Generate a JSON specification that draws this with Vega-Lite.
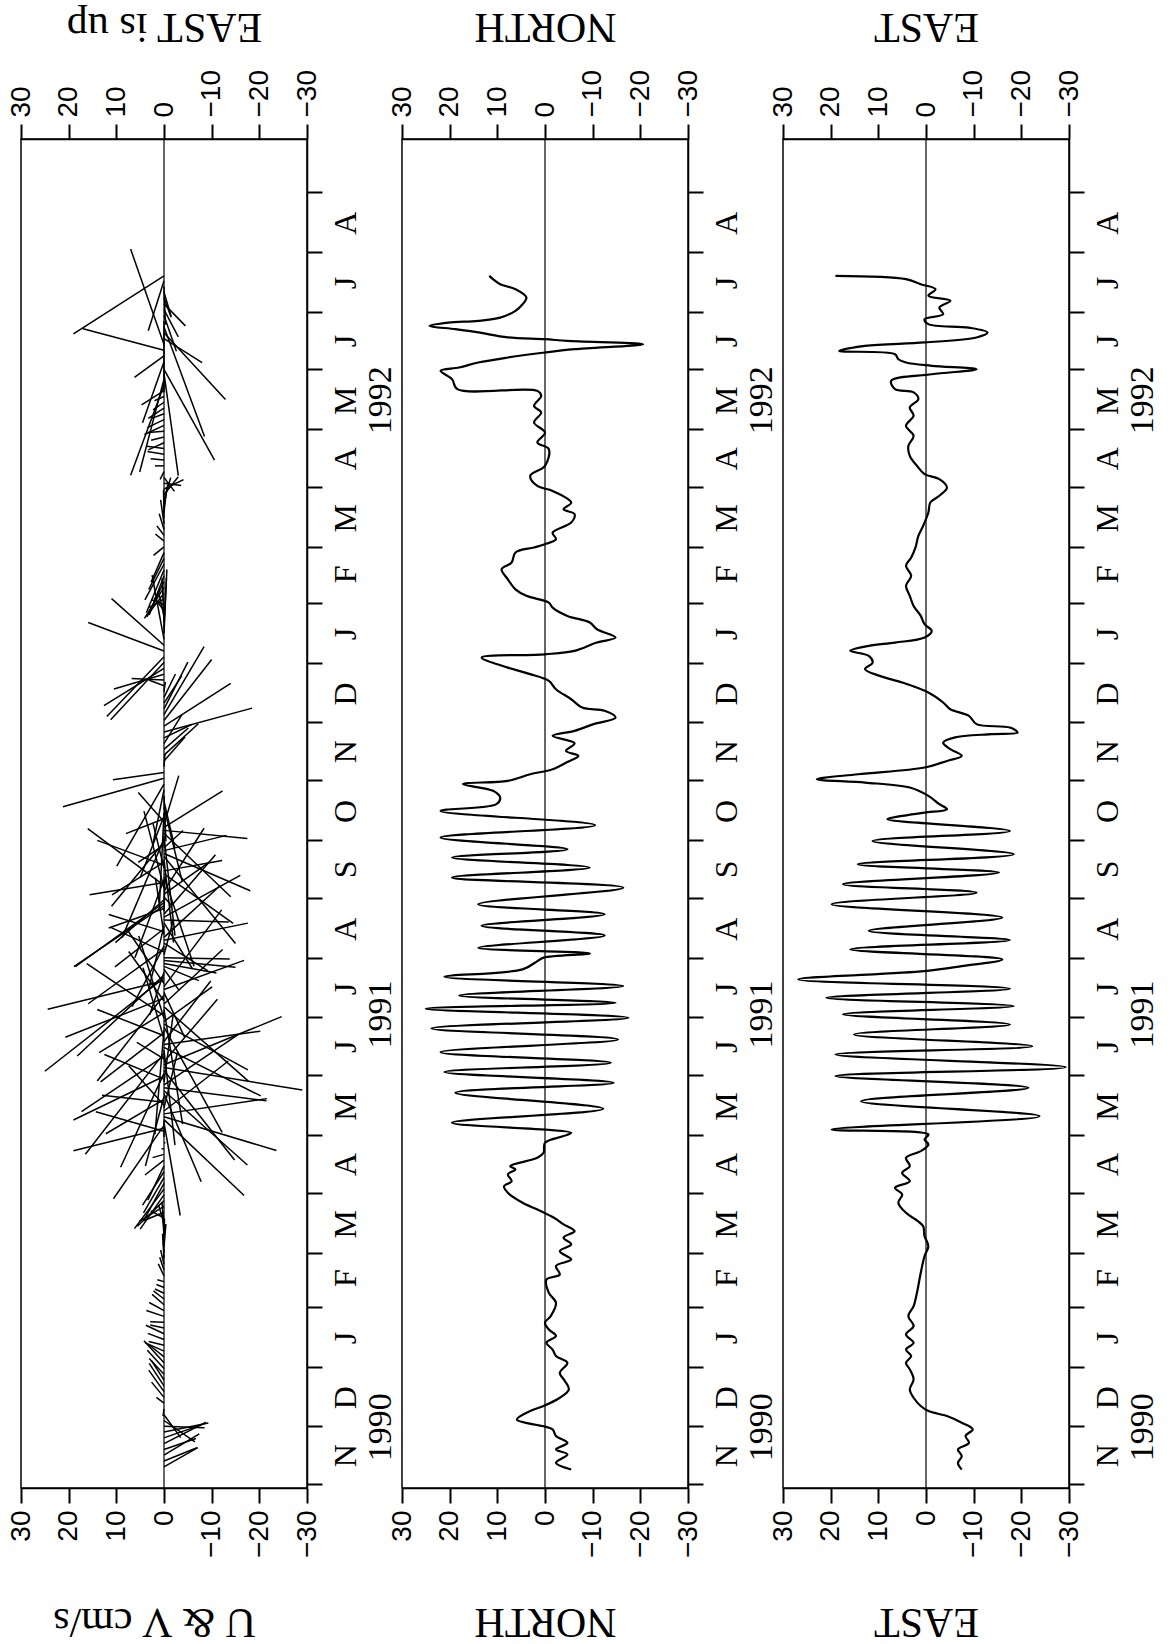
{
  "$schema": "https://vega.github.io/schema/vega-lite/v6.json",
  "padding": {"left": 6, "top": 4, "right": 2, "bottom": 2},
  "background": "white",
  "config": {
    "view": {"stroke": "black", "strokeWidth": 1.5},
    "axis": {"domainColor": "black", "domainWidth": 1.5, "tickColor": "black", "tickWidth": 2, "tickSize": 15, "labelColor": "black", "titleColor": "black", "grid": false},
    "axisRight": {"title": null,
      "labelExpr": "['N','D','J','F','M','A','M','J','J','A','S','O','N','D','J','F','M','A','M','J','J','A',''][indexof([0,30,61,92,120,151,181,212,242,273,304,334,365,395,426,457,486,517,547,578,608,639,670], datum.value)]",
      "labelAngle": 270, "labelAlign": "center", "labelBaseline": "top", "labelOffset": -29, "labelPadding": 8, "labelFont": "Liberation Serif", "labelFontSize": 32, "labelFlush": false, "labelOverlap": false, "labelBound": false},
    "axisBottom": {"labelAngle": 270, "labelAlign": "right", "labelBaseline": "middle", "labelFont": "Liberation Sans", "labelFontSize": 28, "labelPadding": 7, "labelFlush": false, "labelOverlap": false, "labelBound": false,
      "titleFont": "Liberation Serif", "titleFontSize": 42, "titleFontWeight": "normal", "titleAngle": 180, "titleBaseline": "alphabetic", "titleAlign": "center", "titleY": 120},
    "axisTop": {"labelAngle": 270, "labelAlign": "left", "labelBaseline": "middle", "labelFont": "Liberation Sans", "labelFontSize": 28, "labelPadding": 7, "labelFlush": false, "labelOverlap": false, "labelBound": false,
      "titleFont": "Liberation Serif", "titleFontSize": 42, "titleFontWeight": "normal", "titleAngle": 180, "titleBaseline": "alphabetic", "titleAlign": "center", "titleY": -126}
  },
  "datasets": {
    "years": [{"day": 29.5, "year": "1990"}, {"day": 243.5, "year": "1991"}, {"day": 562, "year": "1992"}],
    "north": [
      {"day":7.6,"north":-5.5},{"day":11,"north":-2.3},{"day":15.4,"north":-4.7},{"day":18,"north":-2.3},{"day":21.4,"north":-4.7},{"day":25,"north":-2.3},{"day":28.4,"north":-1.6},{"day":30,"north":0.3},{"day":33.5,"north":5.9},{"day":37.9,"north":3.1},{"day":40.5,"north":0.3},{"day":44.8,"north":-3.1},{"day":49.1,"north":-5},{"day":53.4,"north":-4.2},{"day":57.7,"north":-3.1},{"day":62.9,"north":-4.7},{"day":66.4,"north":-2.3},{"day":69.8,"north":-1.6},{"day":73.3,"north":-0.3},{"day":76.8,"north":-2.3},{"day":80.2,"north":-0.8},{"day":83.7,"north":0},{"day":87.1,"north":-1.2},{"day":94,"north":-2.3},{"day":99.2,"north":-0.8},{"day":106.1,"north":-0.3},{"day":108.7,"north":-3.1},{"day":113.1,"north":-2.3},{"day":116.5,"north":-5.5},{"day":120.8,"north":-3.1},{"day":124.3,"north":-5.5},{"day":127.8,"north":-3.9},{"day":131.2,"north":-6.2},{"day":134.7,"north":-3.9},{"day":137.5,"north":-2.3},{"day":139.5,"north":-0.8},{"day":142.4,"north":1.6},{"day":145.9,"north":4.7},{"day":151.1,"north":7.8},{"day":154.5,"north":8.6},{"day":157.1,"north":7},{"day":160.6,"north":7.8},{"day":163.2,"north":6.2},{"day":164.9,"north":7.3},{"day":169.2,"north":1.6},{"day":171.8,"north":0.3},{"day":177,"north":0},{"day":180.5,"north":-3.9},{"day":182.2,"north":-5.5},{"day":187.4,"north":19.5},{"day":194.6,"north":-12.2},{"day":203,"north":18.8},{"day":208.1,"north":-14.4},{"day":213.7,"north":21.1},{"day":218.5,"north":-13.8},{"day":224,"north":21.9},{"day":230.6,"north":-15.3},{"day":236.3,"north":23.8},{"day":241.8,"north":-17.5},{"day":246.5,"north":25},{"day":249.6,"north":-14.8},{"day":253.4,"north":18},{"day":258.3,"north":-16.4},{"day":263.1,"north":21.1},{"day":266.9,"north":4.7},{"day":271.2,"north":1.6},{"day":273,"north":0.3},{"day":275.2,"north":-9.4},{"day":278.1,"north":14},{"day":284.5,"north":-12.5},{"day":289.5,"north":13.3},{"day":295.5,"north":-12.5},{"day":300.7,"north":14},{"day":309.3,"north":-16.4},{"day":314.5,"north":19.5},{"day":319.7,"north":-9.4},{"day":324.9,"north":19.5},{"day":329.2,"north":-4.7},{"day":335.3,"north":21.9},{"day":341.7,"north":-10.5},{"day":349.1,"north":21.9},{"day":352.6,"north":10.2},{"day":356,"north":9.4},{"day":359.5,"north":10.9},{"day":363,"north":17.2},{"day":364.7,"north":7.8},{"day":368.1,"north":3.1},{"day":370.7,"north":-1.6},{"day":374.5,"north":-4.7},{"day":377.6,"north":-7},{"day":380.2,"north":-4.4},{"day":384.2,"north":-6.2},{"day":388,"north":-1.6},{"day":390.6,"north":-6.2},{"day":394.1,"north":-10.2},{"day":397.5,"north":-14.8},{"day":401,"north":-12.5},{"day":402.7,"north":-7.8},{"day":407,"north":-5.5},{"day":412.2,"north":-2.3},{"day":416.5,"north":-0.8},{"day":420,"north":3.1},{"day":423.4,"north":7.8},{"day":428.6,"north":13.3},{"day":430.3,"north":0},{"day":432.1,"north":-6.2},{"day":436.4,"north":-10.9},{"day":439,"north":-14.8},{"day":443.3,"north":-10.9},{"day":446.8,"north":-9.4},{"day":450.2,"north":-4.7},{"day":454.5,"north":-1.6},{"day":457.1,"north":-0.8},{"day":460.6,"north":3.9},{"day":464,"north":6.2},{"day":469.2,"north":7.8},{"day":474.4,"north":9.1},{"day":477.9,"north":7},{"day":483.1,"north":6.2},{"day":485.7,"north":2.3},{"day":487.4,"north":0},{"day":490,"north":-2.3},{"day":493.4,"north":-1.6},{"day":498.6,"north":-5.5},{"day":503,"north":-6.2},{"day":505.5,"north":-3.9},{"day":509,"north":-5.5},{"day":515,"north":-1.6},{"day":517.6,"north":1.6},{"day":522.8,"north":3.1},{"day":528,"north":0},{"day":536.7,"north":-0.8},{"day":540.1,"north":1.6},{"day":545.3,"north":0},{"day":550.5,"north":2.3},{"day":555.7,"north":0.8},{"day":559.1,"north":2.3},{"day":564.3,"north":0.8},{"day":566.9,"north":1.6},{"day":567.8,"north":18.4},{"day":573,"north":19.5},{"day":577.3,"north":21.9},{"day":579,"north":18},{"day":581.6,"north":14},{"day":584.2,"north":7.8},{"day":586.8,"north":0},{"day":588.5,"north":-6.2},{"day":591.1,"north":-20.6},{"day":592.8,"north":-4.7},{"day":593.7,"north":0},{"day":594.6,"north":7.8},{"day":597.2,"north":14},{"day":598.9,"north":18.8},{"day":600.6,"north":24.2},{"day":602.3,"north":20.3},{"day":603.2,"north":14},{"day":604.9,"north":9.4},{"day":608.4,"north":6.2},{"day":611.8,"north":4.7},{"day":615.3,"north":3.9},{"day":619.6,"north":6.2},{"day":622.2,"north":9.4},{"day":624.8,"north":10.9},{"day":626.5,"north":11.7}
    ],
    "east": [
      {"day":7.6,"east":-7.5},{"day":11,"east":-6.7},{"day":14.5,"east":-7.5},{"day":18,"east":-6.7},{"day":21.4,"east":-9},{"day":25,"east":-8.3},{"day":28.4,"east":-9.8},{"day":31.8,"east":-7.5},{"day":35.3,"east":-4.4},{"day":37.9,"east":-0.5},{"day":40.5,"east":1.1},{"day":44.8,"east":2.6},{"day":49.1,"east":3.4},{"day":54.3,"east":2.6},{"day":59.5,"east":3.4},{"day":62.9,"east":4.2},{"day":66.4,"east":3.1},{"day":69.8,"east":4.2},{"day":73.3,"east":2.6},{"day":77.6,"east":4.2},{"day":82,"east":2.6},{"day":87.1,"east":3.7},{"day":92.3,"east":2.6},{"day":99.2,"east":1.9},{"day":109.6,"east":1.1},{"day":118.3,"east":0.3},{"day":123.4,"east":-0.5},{"day":128.6,"east":0.3},{"day":133.8,"east":0.6},{"day":136.5,"east":1.8},{"day":140.7,"east":4.2},{"day":145.9,"east":5.8},{"day":150.2,"east":5},{"day":153.7,"east":6.5},{"day":157.1,"east":3.4},{"day":161.4,"east":5},{"day":164.9,"east":3.4},{"day":169.2,"east":4.2},{"day":172.7,"east":1.1},{"day":176.1,"east":-0.5},{"day":178.7,"east":0.3},{"day":181.3,"east":-0.5},{"day":183.9,"east":19.8},{"day":190.8,"east":-23.8},{"day":198.6,"east":13.6},{"day":205.5,"east":-21.5},{"day":211.6,"east":19},{"day":216.2,"east":-29.3},{"day":222.8,"east":19},{"day":227.1,"east":-22.3},{"day":233.2,"east":15.1},{"day":238.4,"east":-17.6},{"day":243.6,"east":17.4},{"day":247.9,"east":-18.4},{"day":252.2,"east":20.9},{"day":256.9,"east":-17.6},{"day":261.7,"east":26.8},{"day":266,"east":0.3},{"day":268.6,"east":-7.5},{"day":272.1,"east":-16},{"day":277.3,"east":15.9},{"day":282.1,"east":-17.6},{"day":286.9,"east":12},{"day":293.8,"east":-16},{"day":300.7,"east":19.8},{"day":306.7,"east":-10.6},{"day":311.1,"east":17.4},{"day":317.1,"east":-15.3},{"day":321.4,"east":14.3},{"day":326.6,"east":-18.4},{"day":333.5,"east":11.2},{"day":338.7,"east":-17.6},{"day":344.8,"east":8.1},{"day":346.5,"east":5},{"day":348.2,"east":0.3},{"day":350,"east":-4.4},{"day":352.6,"east":-2.8},{"day":356.9,"east":-0.5},{"day":361.2,"east":3.4},{"day":363.8,"east":12.8},{"day":365.5,"east":22.9},{"day":368.1,"east":14.3},{"day":371.6,"east":0.3},{"day":375,"east":-4.4},{"day":377.6,"east":-7.5},{"day":381.1,"east":-5.1},{"day":384.5,"east":-3.6},{"day":387.1,"east":-5.9},{"day":388.9,"east":-13.7},{"day":389.7,"east":-19.2},{"day":392.3,"east":-17.6},{"day":394.1,"east":-10.6},{"day":398.4,"east":-9},{"day":401.8,"east":-5.1},{"day":405.3,"east":-3.6},{"day":410.5,"east":-0.5},{"day":415.7,"east":5},{"day":419.1,"east":9.7},{"day":422.6,"east":12.8},{"day":426,"east":11.2},{"day":429.5,"east":12},{"day":432.1,"east":15.9},{"day":434.7,"east":12},{"day":436.4,"east":6.5},{"day":439,"east":0.3},{"day":442.4,"east":-1.2},{"day":445.9,"east":0.3},{"day":450.2,"east":1.1},{"day":455.4,"east":2.6},{"day":460.6,"east":3.4},{"day":465.8,"east":4.2},{"day":471,"east":3.1},{"day":476.2,"east":4.2},{"day":480.5,"east":3.1},{"day":485.7,"east":2.2},{"day":491.7,"east":1.6},{"day":496.9,"east":0.6},{"day":503.8,"east":-0.5},{"day":509,"east":-0.9},{"day":512.5,"east":-2.8},{"day":516.8,"east":-4.4},{"day":521.1,"east":-2.8},{"day":523.7,"east":0.3},{"day":528,"east":1.9},{"day":533.2,"east":3.4},{"day":538.4,"east":3.7},{"day":543.6,"east":2.6},{"day":548.8,"east":4.2},{"day":554,"east":2.6},{"day":558.3,"east":3.4},{"day":562.6,"east":1.6},{"day":566.1,"east":2.6},{"day":567.8,"east":6.5},{"day":572.1,"east":7.3},{"day":575.5,"east":-1.2},{"day":578.1,"east":-10.6},{"day":579.9,"east":-1.2},{"day":581.6,"east":4.2},{"day":583.3,"east":5.8},{"day":585.9,"east":6.5},{"day":587.6,"east":18.2},{"day":590.2,"east":12.8},{"day":592,"east":0.3},{"day":594.6,"east":-10.6},{"day":597.2,"east":-12.9},{"day":599.7,"east":-9},{"day":601.5,"east":-0.5},{"day":604.1,"east":0.3},{"day":606.7,"east":-3.6},{"day":610.1,"east":-2.8},{"day":613.6,"east":-5.1},{"day":616.2,"east":-0.5},{"day":619.6,"east":-2},{"day":622.2,"east":1.1},{"day":624.8,"east":4.2},{"day":626.5,"east":19}
    ],
    "sticks": [
      {"day":9,"east":-7.1,"day2":18.9},{"day":12,"east":-6.9,"day2":18.9},{"day":15,"east":-7.4,"day2":26.1},{"day":18,"east":-6.7,"day2":23.7},{"day":21,"east":-8.8,"day2":32.1},{"day":24,"east":-8.5,"day2":31.4},{"day":27,"east":-9.3,"day2":31.7},{"day":30,"east":-8.5,"day2":29.3},{"day":33,"east":-6.5,"day2":21.9},{"day":36,"east":-3.5,"day2":24.1},{"day":39,"east":0.2,"day2":35.3},{"day":42,"east":1.6,"day2":45},{"day":45,"east":2.6,"day2":52.9},{"day":48,"east":3.2,"day2":59.1},{"day":51,"east":3.1,"day2":62.6},{"day":54,"east":2.6,"day2":63.9},{"day":57,"east":3.1,"day2":65.2},{"day":60,"east":3.5,"day2":69.4},{"day":63,"east":4.2,"day2":74.4},{"day":66,"east":3.2,"day2":72.4},{"day":69,"east":4,"day2":73.4},{"day":72,"east":3.2,"day2":74},{"day":75,"east":3.4,"day2":78.2},{"day":78,"east":3.8,"day2":82.4},{"day":81,"east":2.9,"day2":82.5},{"day":84,"east":2.9,"day2":84.2},{"day":87,"east":3.7,"day2":90},{"day":90,"east":3.1,"day2":94.2},{"day":93,"east":2.5,"day2":98.4},{"day":96,"east":2.2,"day2":100.2},{"day":99,"east":1.9,"day2":101.2},{"day":102,"east":1.6,"day2":103.5},{"day":105,"east":1.4,"day2":106},{"day":108,"east":1.2,"day2":114.2},{"day":111,"east":0.9,"day2":117.7},{"day":114,"east":0.7,"day2":121.4},{"day":117,"east":0.3,"day2":129.8},{"day":120,"east":0.2,"day2":128.6},{"day":123,"east":-0.4,"day2":134.9},{"day":126,"east":-0.1,"day2":137.6},{"day":129,"east":0.3,"day2":139.9},{"day":132,"east":0.4,"day2":146.1},{"day":135,"east":1.1,"day2":144.4},{"day":138,"east":2.8,"day2":141.7},{"day":141,"east":4.3,"day2":136.6},{"day":144,"east":5.2,"day2":136.3},{"day":147,"east":5.6,"day2":133.7},{"day":150,"east":5,"day2":132.2},{"day":153,"east":6.2,"day2":132.5},{"day":156,"east":4.2,"day2":137},{"day":159,"east":4.3,"day2":140.7},{"day":162,"east":4.5,"day2":144.7},{"day":165,"east":3.4,"day2":147.2},{"day":168,"east":4,"day2":160.3},{"day":171,"east":2.4,"day2":169.3},{"day":174,"east":0.5,"day2":173.8},{"day":177,"east":-0.3,"day2":177},{"day":180,"east":0,"day2":188.4},
      {"day":183,"east":14.3,"day2":193.1},{"day":186,"east":10.6,"day2":148},{"day":189,"east":-16.8,"day2":149.7},{"day":192,"east":-21.6,"day2":199.9},{"day":195,"east":-2.9,"day2":224.6},{"day":198,"east":13,"day2":201.7},{"day":201,"east":3.9,"day2":165},{"day":204,"east":-17.5,"day2":165.5},{"day":207,"east":-15.6,"day2":233.2},{"day":210,"east":12.5,"day2":222.8},{"day":213,"east":9.1,"day2":164.3},{"day":216,"east":-29,"day2":204.4},{"day":219,"east":-11.2,"day2":251.4},{"day":222,"east":17.3,"day2":193.1},{"day":225,"east":-2.3,"day2":175.8},{"day":228,"east":-20.2,"day2":234.9},{"day":231,"east":4.4,"day2":267.8},{"day":234,"east":13.3,"day2":208.6},{"day":237,"east":-12.2,"day2":182.4},{"day":240,"east":-10.1,"day2":257.8},{"day":243,"east":16.2,"day2":269.9},{"day":246,"east":-3.9,"day2":186.7},{"day":249,"east":-12.3,"day2":277.2},{"day":252,"east":20.7,"day2":231.7},{"day":255,"east":-4.3,"day2":231.8},{"day":258,"east":-12.1,"day2":297.8},{"day":261,"east":24.4,"day2":246.2},{"day":264,"east":18.2,"day2":222},{"day":267,"east":-3.2,"day2":255.9},{"day":270,"east":-11,"day2":265},{"day":273,"east":-13.8,"day2":272.3},{"day":276,"east":11.3,"day2":288.8},{"day":279,"east":6.7,"day2":247.6},{"day":282,"east":-17.6,"day2":290.9},{"day":285,"east":1.8,"day2":314.4},{"day":288,"east":10.3,"day2":268.2},{"day":291,"east":-5.9,"day2":267.5},{"day":294,"east":-16,"day2":315.7},{"day":297,"east":-0.2,"day2":315},{"day":300,"east":18.9,"day2":268.4},{"day":303,"east":10.2,"day2":280.8},{"day":306,"east":-9.5,"day2":322.5},{"day":309,"east":4.2,"day2":349},{"day":312,"east":15.6,"day2":305.6},{"day":315,"east":-6.3,"day2":268.6},{"day":318,"east":-12.2,"day2":323.4},{"day":321,"east":14,"day2":333.8},{"day":324,"east":-2,"day2":280.8},{"day":327,"east":-18.1,"day2":307.7},{"day":330,"east":-4,"day2":338.9},{"day":333,"east":11,"day2":299.7},{"day":336,"east":-2.3,"day2":284.4},{"day":339,"east":-17.5,"day2":334.8},{"day":342,"east":-3.1,"day2":367.4},{"day":345,"east":8,"day2":337.3},{"day":348,"east":1,"day2":298.4},
      {"day":184.5,"east":19,"day2":172.9},{"day":187.5,"east":-3.4,"day2":139.3},{"day":190.5,"east":-23.6,"day2":173},{"day":193.5,"east":-13.5,"day2":219.4},{"day":196.5,"east":7.4,"day2":217},{"day":199.5,"east":12.2,"day2":181.7},{"day":202.5,"east":-7.8,"day2":156.8},{"day":205.5,"east":-21.5,"day2":198.8},{"day":208.5,"east":-1.9,"day2":243.1},{"day":211.5,"east":19,"day2":188.8},{"day":214.5,"east":-14.8,"day2":168.1},{"day":217.5,"east":-24.7,"day2":242.4},{"day":220.5,"east":5.7,"day2":229.1},{"day":223.5,"east":16.5,"day2":171.1},{"day":226.5,"east":-20.3,"day2":201.3},{"day":229.5,"east":-9.8,"day2":260.9},{"day":232.5,"east":14,"day2":246.1},{"day":235.5,"east":1.9,"day2":181.4},{"day":238.5,"east":-17.6,"day2":214.8},{"day":241.5,"east":5.3,"day2":284.2},{"day":244.5,"east":13.6,"day2":223.8},{"day":247.5,"east":-17.7,"day2":209},{"day":250.5,"east":7.4,"day2":276.2},{"day":253.5,"east":14,"day2":209},{"day":256.5,"east":-16.8,"day2":271.6},{"day":259.5,"east":7.5,"day2":286.7},{"day":262.5,"east":25,"day2":214.1},{"day":265.5,"east":3,"day2":243.3},{"day":268.5,"east":-7.3,"day2":261.1},{"day":271.5,"east":-15,"day2":268},{"day":274.5,"east":-2,"day2":293},{"day":277.5,"east":15.9,"day2":249.1},{"day":280.5,"east":-9.2,"day2":266.2},{"day":283.5,"east":-11.8,"day2":310.4},{"day":286.5,"east":11.6,"day2":295.4},{"day":289.5,"east":3.2,"day2":256.6},{"day":292.5,"east":-13.6,"day2":291.5},{"day":295.5,"east":-10.8,"day2":326.4},{"day":298.5,"east":11.6,"day2":288.4},{"day":301.5,"east":18.6,"day2":268.4},{"day":304.5,"east":-1.5,"day2":300.3},{"day":307.5,"east":-8.4,"day2":340.1},{"day":310.5,"east":16,"day2":339.9},{"day":313.5,"east":6.1,"day2":273},{"day":316.5,"east":-14.5,"day2":290.8},{"day":319.5,"east":2.3,"day2":342.5},{"day":322.5,"east":10.9,"day2":305.5},{"day":325.5,"east":-15,"day2":280.3},{"day":328.5,"east":-13.1,"day2":336.4},{"day":331.5,"east":5.4,"day2":322.4},{"day":334.5,"east":8.8,"day2":283.4},{"day":337.5,"east":-14,"day2":304.6},{"day":340.5,"east":-12.3,"day2":359.5},{"day":343.5,"east":5.4,"day2":358.6},{"day":346.5,"east":5,"day2":314.4},
      {"day":351,"east":-3.8,"day2":312.7},{"day":354,"east":-2.3,"day2":329.8},{"day":357,"east":-0.4,"day2":333.3},{"day":360,"east":2.4,"day2":330.9},{"day":363,"east":9.9,"day2":320.5},{"day":366,"east":21.2,"day2":351.2},{"day":369,"east":10.7,"day2":365.3},{"day":372,"east":-0.2,"day2":378.7},{"day":375,"east":-4.4,"day2":387.4},{"day":378,"east":-7.2,"day2":394.3},{"day":381,"east":-5.1,"day2":392.1},{"day":384,"east":-3.8,"day2":399.1},{"day":387,"east":-5.8,"day2":393.9},{"day":390,"east":-18.5,"day2":402.4},{"day":393,"east":-14,"day2":415.2},{"day":396,"east":-10,"day2":427.6},{"day":399,"east":-8.4,"day2":434.3},{"day":402,"east":-5,"day2":426.2},{"day":405,"east":-3.7,"day2":419.1},{"day":408,"east":-2.4,"day2":420.1},{"day":411,"east":-0.3,"day2":416},{"day":414,"east":3.2,"day2":417},{"day":417,"east":6.8,"day2":417.7},{"day":420,"east":10.5,"day2":412.3},{"day":423,"east":12.6,"day2":403.7},{"day":426,"east":11.2,"day2":396.4},{"day":429,"east":12,"day2":398.1},{"day":432,"east":15.9,"day2":446.8},{"day":435,"east":11,"day2":459.2},{"day":438,"east":2.5,"day2":471.3},{"day":441,"east":-0.6,"day2":474.3},{"day":444,"east":-0.5,"day2":469.9},{"day":447,"east":0.4,"day2":469.7},{"day":450,"east":1.1,"day2":462.4},{"day":453,"east":2.1,"day2":459.7},{"day":456,"east":2.7,"day2":458.7},{"day":459,"east":3.1,"day2":454.6},{"day":462,"east":3.6,"day2":450.1},{"day":465,"east":4.1,"day2":448.9},{"day":468,"east":3.6,"day2":449.7},{"day":471,"east":3.1,"day2":450.7},{"day":474,"east":3.7,"day2":451.8},{"day":477,"east":4,"day2":458.5},{"day":480,"east":3.2,"day2":463.9},{"day":483,"east":2.7,"day2":467.7},{"day":486,"east":2.2,"day2":481.6},{"day":489,"east":1.8,"day2":492.7},{"day":492,"east":1.5,"day2":496.9},{"day":495,"east":1,"day2":503.2},{"day":498,"east":0.7,"day2":510.4},{"day":501,"east":0.1,"day2":515.6},{"day":504,"east":-0.6,"day2":516.8},{"day":507,"east":-0.8,"day2":518.4},{"day":510,"east":-1.4,"day2":521.9},{"day":513,"east":-3,"day2":522.4},{"day":516,"east":-4.1,"day2":520.9},{"day":519,"east":-3.6,"day2":517.8},{"day":522,"east":-2.2,"day2":514.8},{"day":525,"east":0.8,"day2":521},{"day":528,"east":1.9,"day2":528},{"day":531,"east":2.8,"day2":531.7},{"day":534,"east":3.5,"day2":535.5},{"day":537,"east":3.6,"day2":538.2},{"day":540,"east":3.3,"day2":536.3},{"day":543,"east":2.7,"day2":541.3},{"day":546,"east":3.3,"day2":545.3},{"day":549,"east":4.1,"day2":544.3},{"day":552,"east":3.5,"day2":547.8},{"day":555,"east":2.7,"day2":552.5},{"day":558,"east":3.3,"day2":552.6},{"day":561,"east":2.3,"day2":557},{"day":564,"east":2,"day2":561.8},{"day":567,"east":4.7,"day2":559.6},{"day":570,"east":7,"day2":523.1},{"day":573,"east":5.1,"day2":524.8},{"day":576,"east":-3,"day2":522.9},{"day":578,"east":-10.6,"day2":531},{"day":582,"east":4.5,"day2":550.4},{"day":585,"east":6.2,"day2":573.9},{"day":588,"east":17,"day2":599.1},{"day":591,"east":7,"day2":640.4},{"day":594,"east":-8,"day2":581.6},{"day":597,"east":-12.9,"day2":562.4},{"day":600,"east":-8.5,"day2":543.2},{"day":603,"east":0,"day2":566},{"day":606,"east":-2.6,"day2":587.5},{"day":609,"east":-3,"day2":594.9},{"day":612,"east":-4.5,"day2":600.6},{"day":615,"east":-1.5,"day2":605.1},{"day":618,"east":-1.5,"day2":605.6},{"day":621,"east":-0.3,"day2":601.2},{"day":624,"east":3.3,"day2":598.1},{"day":626.5,"east":19,"day2":596.5}
    ]
  },
  "bounds": "flush",
  "spacing": 95,
  "hconcat": [
    {
      "width": 286, "height": 1349,
      "resolve": {"axis": {"x": "independent"}},
      "layer": [
        {
          "data": {"name": "sticks"},
          "mark": {"type": "rule", "color": "black", "strokeWidth": 1.5},
          "encoding": {
            "x": {"field": "east", "type": "quantitative", "scale": {"domain": [-30, 30], "reverse": true, "nice": false, "zero": false},
              "axis": {"orient": "bottom", "values": [-30,-20,-10,0,10,20,30], "title": "U & V cm/s", "titleX": 133}},
            "x2": {"datum": 0},
            "y": {"field": "day2", "type": "quantitative", "scale": {"domain": [-2, 697.5], "nice": false, "zero": false},
              "axis": {"orient": "right", "values": [0,30,61,92,120,151,181,212,242,273,304,334,365,395,426,457,486,517,547,578,608,639,670]}},
            "y2": {"field": "day"}
          }
        },
        {
          "data": {"values": [{}]},
          "mark": {"type": "rule", "color": "black", "strokeWidth": 1.2},
          "encoding": {
            "x": {"datum": 0, "type": "quantitative", "scale": {"domain": [-30, 30], "reverse": true, "nice": false, "zero": false},
              "axis": {"orient": "top", "values": [-30,-20,-10,0,10,20,30], "title": "EAST is up", "titleX": 143}}
          }
        },
        {
          "data": {"name": "years"},
          "mark": {"type": "text", "angle": 270, "baseline": "top", "align": "center", "font": "Liberation Serif", "fontSize": 34, "color": "black"},
          "encoding": {
            "x": {"datum": -42, "type": "quantitative", "scale": {"domain": [-30, 30], "reverse": true, "nice": false, "zero": false}, "axis": null},
            "y": {"field": "day", "type": "quantitative", "scale": {"domain": [-2, 697.5], "nice": false, "zero": false},
              "axis": {"orient": "right", "values": [0,30,61,92,120,151,181,212,242,273,304,334,365,395,426,457,486,517,547,578,608,639,670]}},
            "text": {"field": "year"}
          }
        }
      ]
    },
    {
      "width": 286, "height": 1349,
      "resolve": {"axis": {"x": "independent"}},
      "layer": [
        {
          "data": {"name": "north"},
          "mark": {"type": "line", "color": "black", "strokeWidth": 2.2, "interpolate": "catmull-rom"},
          "encoding": {
            "x": {"field": "north", "type": "quantitative", "scale": {"domain": [-30, 30], "reverse": true, "nice": false, "zero": false},
              "axis": {"orient": "bottom", "values": [-30,-20,-10,0,10,20,30], "title": "NORTH", "titleX": 143}},
            "y": {"field": "day", "type": "quantitative", "scale": {"domain": [-2, 697.5], "nice": false, "zero": false},
              "axis": {"orient": "right", "values": [0,30,61,92,120,151,181,212,242,273,304,334,365,395,426,457,486,517,547,578,608,639,670]}},
            "order": {"field": "day", "type": "quantitative"}
          }
        },
        {
          "data": {"values": [{}]},
          "mark": {"type": "rule", "color": "black", "strokeWidth": 1.2},
          "encoding": {
            "x": {"datum": 0, "type": "quantitative", "scale": {"domain": [-30, 30], "reverse": true, "nice": false, "zero": false},
              "axis": {"orient": "top", "values": [-30,-20,-10,0,10,20,30], "title": "NORTH", "titleX": 143}}
          }
        },
        {
          "data": {"name": "years"},
          "mark": {"type": "text", "angle": 270, "baseline": "top", "align": "center", "font": "Liberation Serif", "fontSize": 34, "color": "black"},
          "encoding": {
            "x": {"datum": -42, "type": "quantitative", "scale": {"domain": [-30, 30], "reverse": true, "nice": false, "zero": false}, "axis": null},
            "y": {"field": "day", "type": "quantitative", "scale": {"domain": [-2, 697.5], "nice": false, "zero": false},
              "axis": {"orient": "right", "values": [0,30,61,92,120,151,181,212,242,273,304,334,365,395,426,457,486,517,547,578,608,639,670]}},
            "text": {"field": "year"}
          }
        }
      ]
    },
    {
      "width": 286, "height": 1349,
      "resolve": {"axis": {"x": "independent"}},
      "layer": [
        {
          "data": {"name": "east"},
          "mark": {"type": "line", "color": "black", "strokeWidth": 2.2, "interpolate": "catmull-rom"},
          "encoding": {
            "x": {"field": "east", "type": "quantitative", "scale": {"domain": [-30, 30], "reverse": true, "nice": false, "zero": false},
              "axis": {"orient": "bottom", "values": [-30,-20,-10,0,10,20,30], "title": "EAST", "titleX": 143}},
            "y": {"field": "day", "type": "quantitative", "scale": {"domain": [-2, 697.5], "nice": false, "zero": false},
              "axis": {"orient": "right", "values": [0,30,61,92,120,151,181,212,242,273,304,334,365,395,426,457,486,517,547,578,608,639,670]}},
            "order": {"field": "day", "type": "quantitative"}
          }
        },
        {
          "data": {"values": [{}]},
          "mark": {"type": "rule", "color": "black", "strokeWidth": 1.2},
          "encoding": {
            "x": {"datum": 0, "type": "quantitative", "scale": {"domain": [-30, 30], "reverse": true, "nice": false, "zero": false},
              "axis": {"orient": "top", "values": [-30,-20,-10,0,10,20,30], "title": "EAST", "titleX": 143}}
          }
        },
        {
          "data": {"name": "years"},
          "mark": {"type": "text", "angle": 270, "baseline": "top", "align": "center", "font": "Liberation Serif", "fontSize": 34, "color": "black"},
          "encoding": {
            "x": {"datum": -42, "type": "quantitative", "scale": {"domain": [-30, 30], "reverse": true, "nice": false, "zero": false}, "axis": null},
            "y": {"field": "day", "type": "quantitative", "scale": {"domain": [-2, 697.5], "nice": false, "zero": false},
              "axis": {"orient": "right", "values": [0,30,61,92,120,151,181,212,242,273,304,334,365,395,426,457,486,517,547,578,608,639,670]}},
            "text": {"field": "year"}
          }
        }
      ]
    }
  ]
}
